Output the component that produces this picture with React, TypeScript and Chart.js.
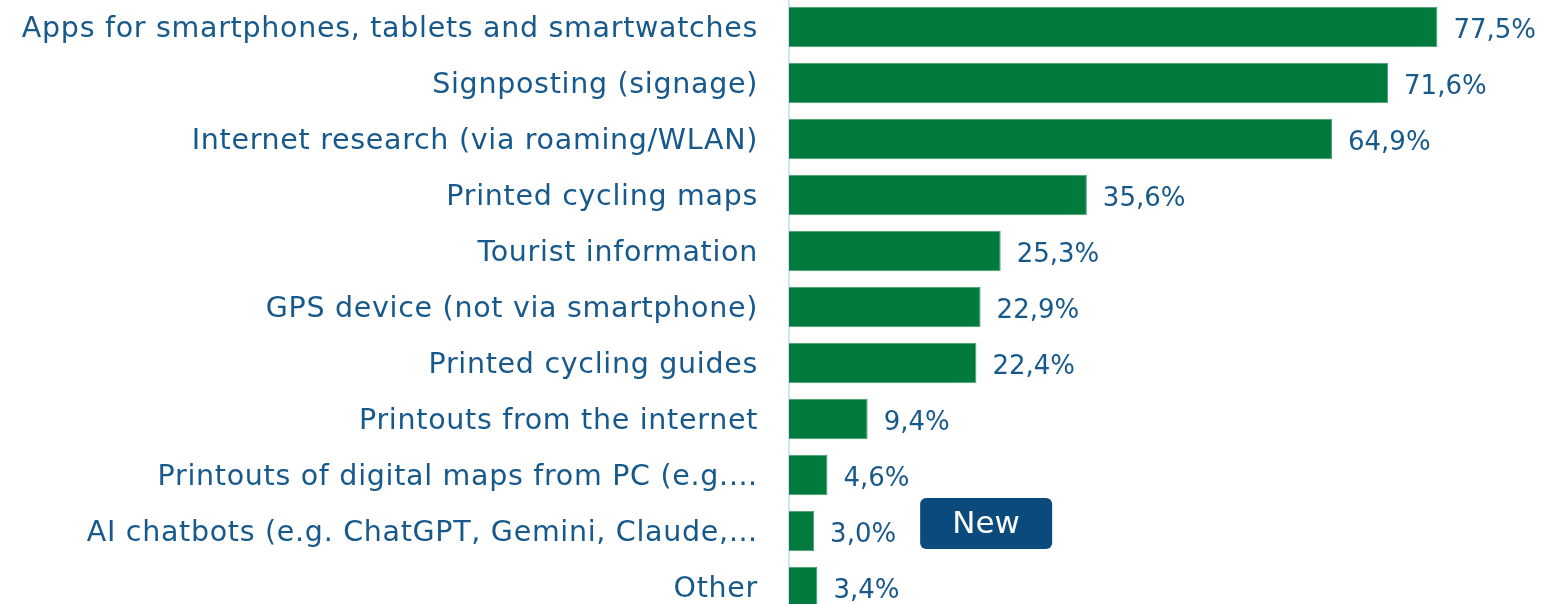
import React, { useEffect, useRef } from "react";
import { Chart, registerables } from "chart.js";

Chart.register(...registerables);

const categories = [
  "Apps for smartphones, tablets and smartwatches",
  "Signposting (signage)",
  "Internet research (via roaming/WLAN)",
  "Printed cycling maps",
  "Tourist information",
  "GPS device (not via smartphone)",
  "Printed cycling guides",
  "Printouts from the internet",
  "Printouts of digital maps from PC (e.g.…",
  "AI chatbots (e.g. ChatGPT, Gemini, Claude,…",
  "Other",
];
const values = [77.5, 71.6, 64.9, 35.6, 25.3, 22.9, 22.4, 9.4, 4.6, 3.0, 3.4];
const badgeIndex = 9;
const badgeText = "New";

const FONT = "'DejaVu Sans', sans-serif";
const FONT_SIZE = 26;
const LABEL_SIZE = 28.5;
const TEXT = "#17598b";

const fmt = (v: number) => v.toFixed(1).replace(".", ",") + "%";

const spacingPlugin = {
  id: "labelSpacing",
  beforeDraw(chart: any) {
    chart.ctx.letterSpacing = "0.7px";
  },
  beforeDatasetsDraw(chart: any) {
    chart.ctx.letterSpacing = "0px";
  },
};

const labelPlugin = {
  id: "valueLabels",
  afterDatasetsDraw(chart: any) {
    const ctx = chart.ctx;
    const meta = chart.getDatasetMeta(0);
    ctx.save();
    ctx.letterSpacing = "0px";
    ctx.font = `${FONT_SIZE}px ${FONT}`;
    ctx.fillStyle = TEXT;
    ctx.textBaseline = "middle";
    ctx.textAlign = "left";
    meta.data.forEach((bar: any, i: number) => {
      const txt = fmt(values[i]);
      const x = bar.x + 16;
      const y = bar.y + 4;
      ctx.fillText(txt, x, y);
      if (i === badgeIndex) {
        const w = ctx.measureText(txt).width;
        const bx = x + w + 24;
        const bw = 132;
        const bh = 51;
        const by = bar.y - 33;
        ctx.fillStyle = "#0b4a7c";
        ctx.beginPath();
        ctx.roundRect(bx, by, bw, bh, 6);
        ctx.fill();
        ctx.fillStyle = "#ffffff";
        ctx.textAlign = "center";
        ctx.font = `31px ${FONT}`;
        ctx.fillText(badgeText, bx + bw / 2, by + bh / 2 + 1);
        ctx.font = `${FONT_SIZE}px ${FONT}`;
        ctx.fillStyle = TEXT;
        ctx.textAlign = "left";
      }
    });
    ctx.restore();
  },
};

export default function App() {
  const ref = useRef<HTMLCanvasElement>(null);
  useEffect(() => {
    const chart = new Chart(ref.current!, {
      type: "bar",
      data: {
        labels: categories,
        datasets: [
          {
            data: values,
            backgroundColor: "#007a3d",
            borderColor: "#4f9d72",
            borderWidth: 1,
            borderSkipped: "left",
          },
        ],
      },
      options: {
        indexAxis: "y",
        animation: false,
        responsive: true,
        maintainAspectRatio: false,
        layout: { padding: 0 },
        plugins: { legend: { display: false }, tooltip: { enabled: false } },
        scales: {
          x: {
            min: 0,
            max: 90,
            display: false,
          },
          y: {
            afterFit(scale: any) {
              scale.width = 789;
              scale.paddingTop = 0;
              scale.paddingBottom = 0;
            },
            grid: { display: false, drawTicks: false },
            border: { display: true, color: "#cde6f7", width: 2 },
            ticks: {
              font: { family: FONT, size: LABEL_SIZE },
              color: TEXT,
              padding: 31,
              labelOffset: 3,
            },
          },
        },
      },
      plugins: [spacingPlugin, labelPlugin],
    });
    return () => chart.destroy();
  }, []);
  return (
    <div style={{ position: "fixed", left: 0, top: -1, width: 1542, height: 616, background: "#fff" }}>
      <canvas ref={ref} />
    </div>
  );
}
